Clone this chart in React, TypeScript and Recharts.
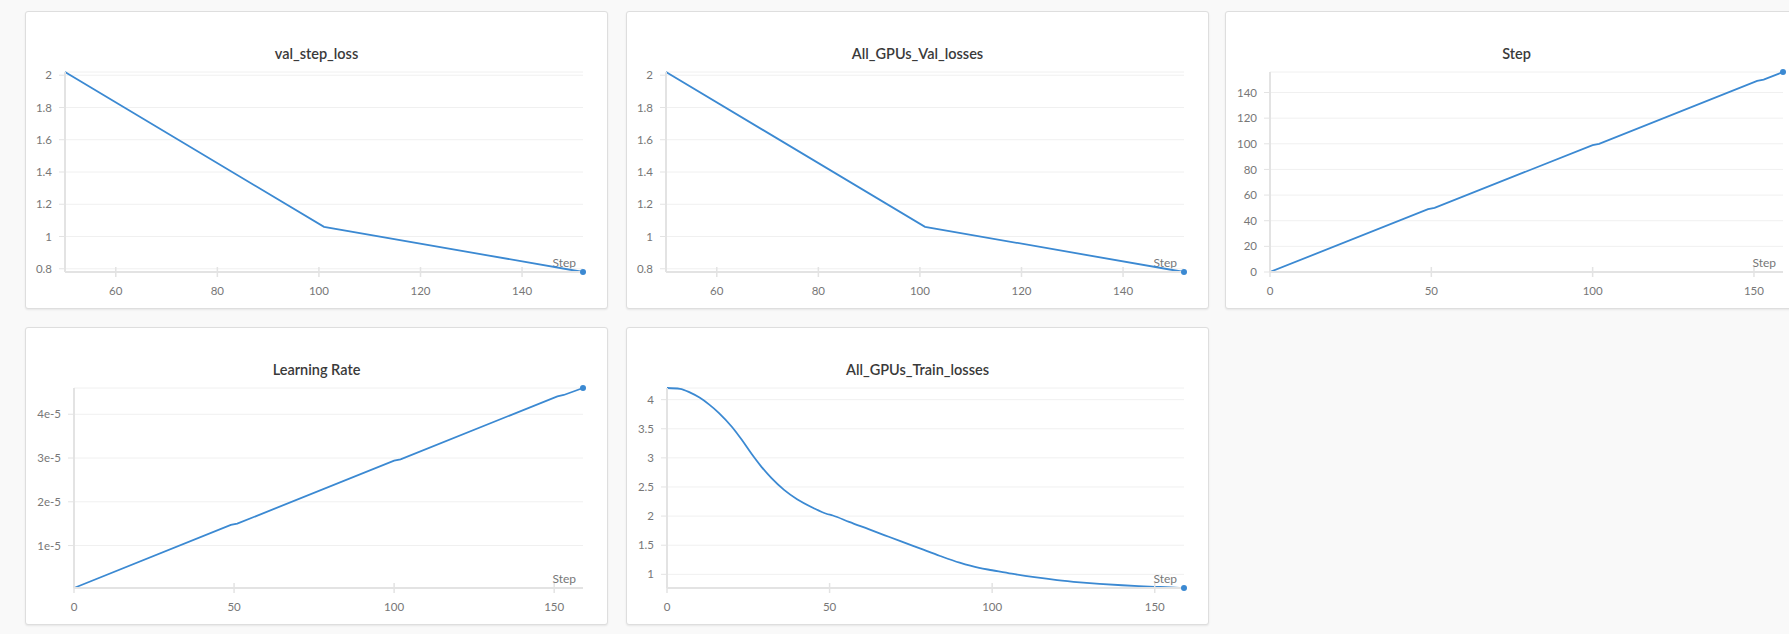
import { LineChart, Line, XAxis, YAxis, CartesianGrid } from 'recharts';

// val_step_loss / All_GPUs_Val_losses (logged at three steps)
const valSteps = [50, 101, 152];
const valStepLoss = [2.02, 1.06, 0.78];
const gpuValLoss = [2.02, 1.06, 0.78];

// Step and Learning Rate, break points of the straight runs
const stepX = [0, 49, 51, 100, 102, 151, 153, 159];
const stepValues = [0, 49, 50, 99, 100, 149, 150, 156];
const lrValues = [3e-7, 1.47e-5, 1.5e-5, 2.94e-5, 2.97e-5, 4.41e-5, 4.44e-5, 4.6e-5];

// All_GPUs_Train_losses
const trainX = [0, 4, 7, 10, 13, 16, 20, 23, 26, 29, 32, 36, 40, 45, 49, 51, 56, 62, 67, 72, 78, 84, 90, 96, 100, 106, 113, 120, 127, 133, 140, 145, 150, 155, 159];
const trainLoss = [4.2, 4.185, 4.125, 4.035, 3.915, 3.77, 3.53, 3.31, 3.07, 2.85, 2.66, 2.45, 2.29, 2.14, 2.04, 2.01, 1.9, 1.775, 1.67, 1.565, 1.44, 1.315, 1.2, 1.11, 1.07, 1.01, 0.95, 0.9, 0.862, 0.836, 0.812, 0.798, 0.786, 0.775, 0.765];

const valXTicks = [60, 80, 100, 120, 140];
const valYTicks = [0.8, 1, 1.2, 1.4, 1.6, 1.8, 2];
const stepXTicks = [0, 50, 100, 150];
const stepYTicks = [0, 20, 40, 60, 80, 100, 120, 140];
const lrYTicks = [1e-5, 2e-5, 3e-5, 4e-5];
const lrTickLabels = ['1e-5', '2e-5', '3e-5', '4e-5'];
const trainYTicks = [1, 1.5, 2, 2.5, 3, 3.5, 4];

const BLUE = '#3b89d2';
const AXIS = '#e3e3e3';
const PANEL_W = 583;
const PANEL_H = 298;

const XTick = (props: any) => {
  const { x, y, payload } = props;
  const axisY = y - 14;
  return (
    <g>
      <line x1={x} x2={x} y1={axisY - 5} y2={axisY + 5} stroke={AXIS} strokeWidth={1.5} />
      <text x={x} y={axisY + 23} textAnchor="middle" fill="#777" fontSize={11.5}>
        {payload.value}
      </text>
    </g>
  );
};

function Panel(props: {
  title: string;
  left: number;
  top: number;
  xs: number[];
  ys: number[];
  xTicks: number[];
  yTicks: number[];
  yWidth: number;
  yFormat?: (v: number, i: number) => string;
  smooth?: boolean;
}) {
  const { title, left, top, xs, ys, xTicks, yTicks, yWidth, yFormat, smooth } = props;
  const data = xs.map((x, i) => ({ x, y: ys[i] }));
  const last = data.length - 1;
  return (
    <div
      style={{
        position: 'absolute',
        left,
        top,
        width: PANEL_W,
        height: PANEL_H,
        boxSizing: 'border-box',
        background: '#fff',
        border: '1px solid #dedede',
        borderRadius: 3,
        boxShadow: '0 1px 2px rgba(0,0,0,0.08)',
      }}
    >
      <div
        style={{
          position: 'absolute',
          left: 0,
          right: 0,
          top: 32,
          textAlign: 'center',
          fontSize: 14.5,
          fontWeight: 600,
          color: '#3a3a3a',
          lineHeight: '20px',
        }}
      >
        {title}
      </div>
      <div
        style={{
          position: 'absolute',
          right: 31,
          top: 245,
          fontSize: 12,
          color: '#777',
          lineHeight: '12px',
        }}
      >
        Step
      </div>
      <div style={{ position: 'absolute', left: -1, top: -1 }}>
        <LineChart width={PANEL_W} height={PANEL_H} data={data} margin={{ top: 61, right: 25, bottom: 0, left: 0 }}>
          <CartesianGrid vertical={false} stroke="#f0f0f0" />
          <XAxis
            type="number"
            dataKey="x"
            domain={['dataMin', 'dataMax']}
            ticks={xTicks}
            interval={0}
            height={37}
            axisLine={{ stroke: AXIS, strokeWidth: 2 }}
            tickLine={false}
            tickSize={6}
            tickMargin={8}
            tick={<XTick />}
          />
          <YAxis
            type="number"
            dataKey="y"
            domain={['dataMin', 'dataMax']}
            ticks={yTicks}
            interval={0}
            width={yWidth}
            axisLine={{ stroke: AXIS, strokeWidth: 2 }}
            tickLine={{ stroke: AXIS }}
            tickSize={6}
            tickMargin={7}
            tick={{ fill: '#777', fontSize: 11.5 }}
            tickFormatter={yFormat}
          />
          <Line
            type={smooth ? 'monotone' : 'linear'}
            dataKey="y"
            stroke={BLUE}
            strokeWidth={1.8}
            isAnimationActive={false}
            dot={(p: any) =>
              p.index === last ? (
                <circle key="end" cx={p.cx} cy={p.cy} r={3} fill={BLUE} />
              ) : (
                <g key={p.index} />
              )
            }
          />
        </LineChart>
      </div>
    </div>
  );
}

export default function App() {
  return (
    <div
      style={{
        position: 'fixed',
        left: 0,
        top: 0,
        width: 1789,
        height: 634,
        overflow: 'hidden',
        background: '#f9f9f9',
        fontFamily: 'Lato, "Noto Sans", sans-serif',
      }}
    >
      <Panel title="val_step_loss" left={25} top={11} xs={valSteps} ys={valStepLoss} xTicks={valXTicks} yTicks={valYTicks} yWidth={40} />
      <Panel title="All_GPUs_Val_losses" left={626} top={11} xs={valSteps} ys={gpuValLoss} xTicks={valXTicks} yTicks={valYTicks} yWidth={40} />
      <Panel title="Step" left={1225} top={11} xs={stepX} ys={stepValues} xTicks={stepXTicks} yTicks={stepYTicks} yWidth={45} />
      <Panel
        title="Learning Rate"
        left={25}
        top={327}
        xs={stepX}
        ys={lrValues}
        xTicks={stepXTicks}
        yTicks={lrYTicks}
        yWidth={49}
        yFormat={(_v, i) => lrTickLabels[i]}
      />
      <Panel title="All_GPUs_Train_losses" left={626} top={327} xs={trainX} ys={trainLoss} xTicks={stepXTicks} yTicks={trainYTicks} yWidth={41} smooth />
    </div>
  );
}
